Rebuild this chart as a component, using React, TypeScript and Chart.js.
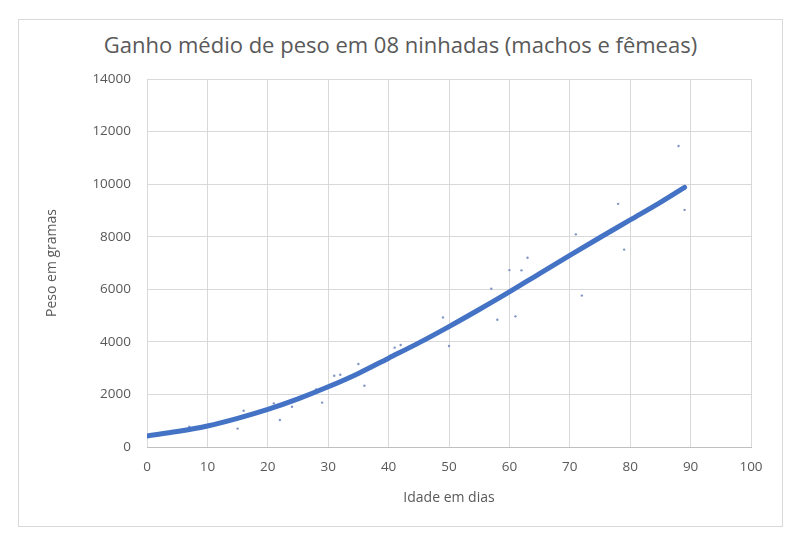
import { useEffect, useRef } from "react";
import { Chart, registerables } from "chart.js";

Chart.register(...registerables);

// observed weights (days, grams)
const obsDays = [7, 15, 16, 21, 22, 24, 28, 29, 31, 32, 35, 36, 41, 42, 49, 50, 57, 58, 60, 61, 62, 63, 71, 72, 78, 79, 88, 89];
const obsWeight = [770, 700, 1380, 1660, 1030, 1530, 2190, 1690, 2710, 2750, 3160, 2330, 3780, 3880, 4930, 3840, 6020, 4840, 6730, 4970, 6720, 7200, 8090, 5760, 9250, 7510, 11450, 9020];

// trend line
const trendDays = [0, 5, 10, 15, 20, 25, 30, 35, 40, 45, 50, 55, 60, 65, 70, 75, 80, 85, 89];
const trendWeight = [420, 590, 800, 1090, 1430, 1830, 2290, 2800, 3380, 3960, 4580, 5230, 5900, 6600, 7290, 7970, 8640, 9310, 9880];

const xTicks = [0, 10, 20, 30, 40, 50, 60, 70, 80, 90, 100];
const yTicks = [0, 2000, 4000, 6000, 8000, 10000, 12000, 14000];

const FONT = "'Open Sans', 'Liberation Sans', sans-serif";
const TEXT = "#595959";
const GRID = "#d9d9d9";

export default function App() {
  const canvasRef = useRef<HTMLCanvasElement>(null);
  const chartRef = useRef<Chart | null>(null);

  useEffect(() => {
    if (!canvasRef.current) return;
    chartRef.current?.destroy();
    chartRef.current = new Chart(canvasRef.current, {
      type: "scatter",
      data: {
        datasets: [
          {
            label: "Tendência",
            data: trendDays.map((d, i) => ({ x: d, y: trendWeight[i] })),
            showLine: true,
            borderColor: "#4472c4",
            borderWidth: 5,
            pointRadius: 0,
            cubicInterpolationMode: "monotone",
            borderCapStyle: "round",
            order: 1,
          },
          {
            label: "Peso",
            data: obsDays.map((d, i) => ({ x: d, y: obsWeight[i] })),
            pointRadius: 1.2,
            pointBorderWidth: 0,
            pointBackgroundColor: "#7f95c4",
            order: 2,
          },
        ],
      },
      options: {
        responsive: true,
        maintainAspectRatio: false,
        animation: false,
        layout: { padding: { top: 60, right: 32, left: 0, bottom: 0 } },
        plugins: { legend: { display: false }, tooltip: { enabled: false } },
        scales: {
          x: {
            type: "linear",
            min: 0,
            max: 100,
            afterBuildTicks: (s: any) => { s.ticks = xTicks.map((v) => ({ value: v })); },
            afterFit: (s: any) => { s.height = 80; },
            grid: { color: GRID, drawTicks: false },
            border: { color: "#bfbfbf" },
            ticks: { color: TEXT, font: { family: FONT, size: 13.5 }, padding: 12, maxRotation: 0 },
            title: { display: true, text: "Idade em dias", color: TEXT, font: { family: FONT, size: 14 }, padding: { top: 0, bottom: 21 } },
          },
          y: {
            min: 0,
            max: 14000,
            afterBuildTicks: (s: any) => { s.ticks = yTicks.map((v) => ({ value: v })); },
            afterFit: (s: any) => { s.width = 129; },
            grid: { color: GRID, drawTicks: false },
            border: { display: false },
            ticks: { color: TEXT, font: { family: FONT, size: 13.5 }, padding: 16, callback: (v: any) => String(v) },
            title: { display: true, text: "Peso em gramas", color: TEXT, font: { family: FONT, size: 14 }, padding: { top: 26, bottom: 0 } },
          },
        },
      },
    });
    return () => chartRef.current?.destroy();
  }, []);

  return (
    <div style={{ position: "absolute", left: 18, top: 19, width: 765, height: 508, border: "1px solid #d9d9d9", boxSizing: "border-box", background: "#fff" }}>
      <div style={{ position: "absolute", left: 0, right: 0, top: 9, textAlign: "center", fontFamily: FONT, fontSize: 22, color: TEXT }}>
        Ganho médio de peso em 08 ninhadas (machos e fêmeas)
      </div>
      <div style={{ position: "absolute", left: -1, top: -1, width: 765, height: 508 }}>
        <canvas ref={canvasRef} />
      </div>
    </div>
  );
}
